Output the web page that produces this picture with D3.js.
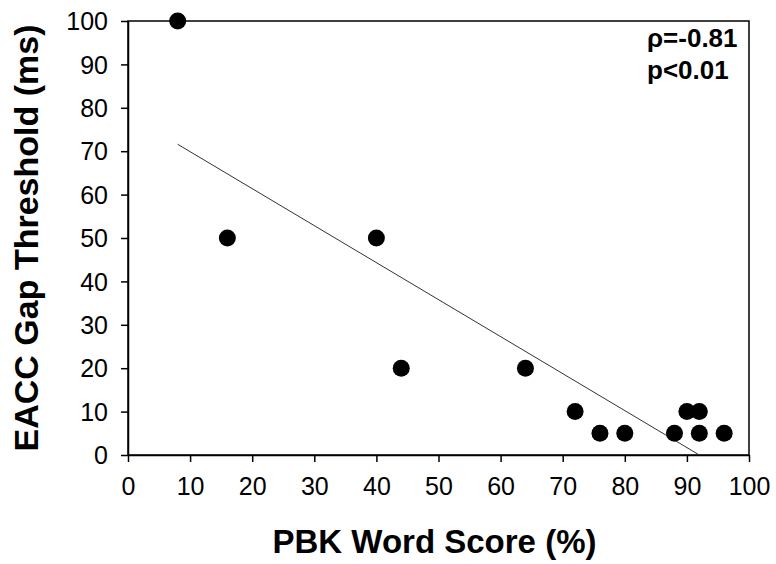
<!DOCTYPE html>
<html>
<head>
<meta charset="utf-8">
<script src="https://cdn.jsdelivr.net/npm/d3@7"></script>
<style>
  html, body { margin: 0; padding: 0; background: #fff; }
  svg { display: block; }
</style>
</head>
<body>
<script>
// Data
const pbkScore = [8, 16, 40, 44, 64, 72, 76, 80, 88, 90, 92, 92, 96];
const gapThreshold = [100, 50, 50, 20, 20, 10, 5, 5, 5, 10, 10, 5, 5];
const xTicks = [0, 10, 20, 30, 40, 50, 60, 70, 80, 90, 100];
const yTicks = [0, 10, 20, 30, 40, 50, 60, 70, 80, 90, 100];
const fitX = [8, 92];
const fitY = [71.6, 0];
const statsText = ["\u03c1=-0.81", "p<0.01"];
const xTitle = "PBK Word Score (%)";
const yTitle = "EACC Gap Threshold (ms)";

const W = 776, H = 564;
const mLeft = 128, mRight = 749, mTop = 21, mBottom = 455;

const svg = d3.select("body").append("svg").attr("width", W).attr("height", H);

const x = d3.scaleLinear().domain([0, 100]).range([mLeft, mRight]);
const y = d3.scaleLinear().domain([0, 100]).range([mBottom, mTop]);

const font = "'Liberation Sans', Arial, sans-serif";

// Frame (top and right)
svg.append("rect")
  .attr("x", mLeft).attr("y", mTop)
  .attr("width", mRight - mLeft).attr("height", mBottom - mTop)
  .attr("fill", "none").attr("stroke", "#000").attr("stroke-width", 1.5);

// Axes
const xAxis = svg.append("g")
  .attr("transform", `translate(0,${mBottom})`)
  .call(d3.axisBottom(x).tickValues(xTicks).tickSize(7).tickSizeOuter(0).tickPadding(15));
const yAxis = svg.append("g")
  .attr("transform", `translate(${mLeft},0)`)
  .call(d3.axisLeft(y).tickValues(yTicks).tickSize(7).tickSizeOuter(0).tickPadding(13));

[xAxis, yAxis].forEach(g => {
  g.select(".domain").attr("stroke", "#000").attr("stroke-width", 1.5);
  g.selectAll(".tick line").attr("stroke", "#000").attr("stroke-width", 1.5);
  g.selectAll(".tick text")
    .attr("font-family", font).attr("font-size", 25).attr("fill", "#000");
});
yAxis.selectAll(".tick text").attr("dy", "0.35em");

// Regression line
const lineData = fitX.map((v, i) => [v, fitY[i]]);
svg.append("path")
  .datum(lineData)
  .attr("d", d3.line().x(d => x(d[0])).y(d => y(d[1])))
  .attr("stroke", "#333").attr("stroke-width", 1).attr("fill", "none");

// Points
svg.append("g").selectAll("circle")
  .data(pbkScore.map((v, i) => [v, gapThreshold[i]]))
  .join("circle")
  .attr("cx", d => x(d[0]))
  .attr("cy", d => y(d[1]))
  .attr("r", 8.5)
  .attr("fill", "#000");

// Stats annotation
svg.append("g").selectAll("text")
  .data(statsText)
  .join("text")
  .attr("x", 647)
  .attr("y", (d, i) => 47 + i * 32)
  .attr("font-family", font).attr("font-size", 26).attr("font-weight", "bold")
  .attr("fill", "#000")
  .text(d => d);

// Axis titles
svg.append("text")
  .attr("x", (mLeft + mRight) / 2 - 4)
  .attr("y", 553)
  .attr("text-anchor", "middle")
  .attr("font-family", font).attr("font-size", 33).attr("font-weight", "bold")
  .text(xTitle);

svg.append("text")
  .attr("transform", `translate(38,${(mTop + mBottom) / 2}) rotate(-90)`)
  .attr("text-anchor", "middle")
  .attr("font-family", font).attr("font-size", 34).attr("font-weight", "bold")
  .text(yTitle);
</script>
</body>
</html>
